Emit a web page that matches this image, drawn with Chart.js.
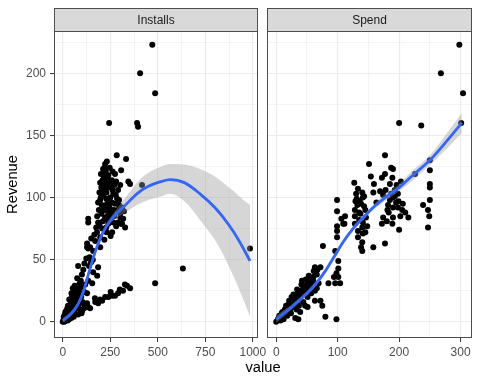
<!DOCTYPE html>
<html>
<head>
<meta charset="utf-8">
<script src="https://cdn.jsdelivr.net/npm/chart.js@4"></script>
<style>
  body { margin: 0; background: #fff; width: 480px; height: 384px; position: relative; overflow: hidden; font-family: 'Liberation Sans', Arial, sans-serif; }
  canvas { position: absolute; top: 0; }
  #panelInstalls { left: 0; }
  #panelSpend { left: 260px; }
  #xTitle { position: absolute; top: 359px; left: 0; width: 526px; text-align: center; font-size: 14.7px; color: #000; }
</style>
</head>
<body>
<canvas id="panelInstalls" width="280" height="384"></canvas>
<canvas id="panelSpend" width="220" height="384"></canvas>
<div id="xTitle">value</div>
<script>
// facet labels
const facets = ['Installs', 'Spend'];

// Installs panel: scatter points
const installsX = [471,407,486,244,391,396,284,333,307,223,220,212,240,275,197,233,302,354,417,486,632,985,
  207,240,266,291,197,233,275,312,212,260,181,223,302,134,134,186,240,291,328,312,207,260,197,171,144,128,160,197,
  81,186,160,181,134,102,155,92,128,66,107,
  186,223,260,291,338,354,317,275,240,207,171,134,102,81,144,128,128,134,76,
  200,215,230,250,205,226,246,255,266,281,190,211,229,252,219,180,193,216,201,232,247,258,271,286,296,303,322,
  229,214,249,258,268,204,186,238,176,166,150,207,345,
  221,236,262,279,296,318,244,226,209,193,271,288,306,253,237,219,203,262,281,231,
  0,3,7,9,12,16,18,22,25,29,31,35,38,42,44,49,52,55,58,62,64,68,71,74,77,79,85,89,95,19,28,41,48,57,69,34,46,53,63,
  11,24,82,91,99,112,119,87,97,113,118,61,72,39,50,101,108,114,124,141,149,138,158,5,14,33,26,45,58,66,84,104,
  169,196,252,300,327];
const installsY = [223,200,184,160,160,157,134,131,122,127,124,123,118,119,112,112,110,111,110,31,43,59,
  106,108,103,106,98,95,95,92,90,88,85,84,87,83,80,80,79,80,76,79,75,72,68,65,60,60,57,60,
  45,44,40,37,33,28,31,23,23,19,15,
  15,20,21,23,29,27,25,21,20,17,16,12,9,6,11,15,63,59,35,
  100,110,104,100,94,90,92,84,80,77,90,81,76,69,66,72,78,117,119,129,124,114,110,99,94,84,89,
  99,102,110,96,90,87,96,86,76,70,67,111,113,
  107,115,106,102,98,83,97,121,114,104,85,90,79,89,82,93,108,121,113,72,
  0,1,2,0,3,2,5,4,7,5,9,7,11,9,13,12,15,13,17,16,20,18,22,21,25,27,26,31,33,9,13,17,20,24,27,18,23,27,29,
  6,11,13,10,7,11,14,17,20,24,30,8,11,4,6,38,42,47,51,52,48,45,50,4,8,2,1,3,4,12,20,16,
  19,18,24,26,30];

// Installs panel: loess fit and confidence band
const installsFitX = [0,40,80,110,140,170,200,230,270,330,390,450,520,564,640,722,800,844,900,950,985];
const installsFit  = [1,6,14,25,41,56,68,77,85,94,103,109,113,114.5,112,103,92,84,72,59,49];
const installsLow  = [-1,4,12,23,39,54,66,75,82,88,94,98,101,103,97,82,66,54,36,18,4];
const installsHigh = [3,8,16,27,43,58,70,79,88,100,112,120,125,127,126.5,123,117,112,105,98,94];

// Spend panel: scatter points
const spendX = [298,268,304,200,236,301,177,151,187,190,154,177,172,189,250,226,250,250,250,127,159,185,
  133,140,130,158,169,193,198,190,141,99,174,185,250,132,128,182,190,198,239,99,145,137,112,247,249,174,190,202,215,
  109,99,128,141,148,172,200,247,99,99,133,141,133,140,158,177,
  106,111,76,96,101,101,98,94,101,85,96,104,63,60,63,75,80,98,36,31,63,138,140,145,140,180,189,47,72,72,
  136,143,128,135,146,195,205,210,183,178,196,203,163,
  131,138,143,135,129,193,187,199,206,181,
  0,2,4,6,8,11,13,15,17,19,21,23,26,27,30,31,34,36,38,40,43,45,47,49,52,54,56,58,5,10,14,20,24,29,35,41,44,50,55,60,66,
  12,18,24,33,37,44,51,57,66,69,28,34,41,48,53,61,67,39,51,42,25,16,9,3,7,
  21,27,33,38,46,54,59,64];
const spendY = [223,200,184,160,158,160,134,127,124,123,117,119,116,116,130,119,122,111,108,112,111,111,
  107,104,103,104,105,106,103,100,100,98,102,98,98,94,90,94,92,92,94,89,90,87,85,90,85,84,84,85,84,
  79,77,79,80,77,79,74,76,73,68,73,71,68,64,60,63,
  83,79,61,57,49,43,39,36,36,31,31,31,44,33,25,13,4,2,2,3,17,60,57,72,76,81,79,13,17,44,
  97,93,85,82,84,96,90,88,88,106,110,113,96,
  99,95,101,88,97,101,103,97,95,90,
  0,1,3,2,5,4,7,6,9,8,11,10,13,12,16,14,17,19,18,21,22,24,23,26,27,29,28,31,5,8,10,14,16,19,22,25,28,30,33,36,38,
  2,5,7,10,13,16,20,23,27,31,22,26,30,34,37,41,42,8,12,33,20,13,7,2,1,
  17,20,15,24,29,25,35,38];

// Spend panel: loess fit and confidence band
const spendFitX = [0,30,60,80,95,110,125,140,160,180,200,220,250,275,302];
const spendFit  = [2,14,28,41,53,65,75,83,93,101,108,117,130,144,160];
const spendLow  = [-1,12,26,39,51,63,73,81,91,98,105,113,126,138,152];
const spendHigh = [5,16,30,43,55,67,77,85,95,104,111,121,134,150,168];

// y axis ticks shared by both panels
const yMajor = [0, 50, 100, 150, 200];

Chart.defaults.font.family = "'Liberation Sans', Arial, sans-serif";

function pares(xs, ys) { return xs.map((x, i) => ({x: x, y: ys[i]})); }

const facetaPlugin = {
  id: 'faceta',
  afterDraw(chart, args, opts) {
    const {ctx, chartArea: a} = chart;
    const l = Math.round(a.left) + 0.5, r = Math.round(a.right) - 0.5;
    const t = Math.round(a.top) + 0.5, b = Math.round(a.bottom) - 0.5;
    ctx.save();
    ctx.fillStyle = '#d9d9d9';
    ctx.fillRect(l, 8.5, r - l, t - 8.5);
    ctx.strokeStyle = '#4d4d4d';
    ctx.lineWidth = 1;
    ctx.strokeRect(l, 8.5, r - l, t - 8.5);
    ctx.strokeRect(l, t, r - l, b - t);
    ctx.fillStyle = '#1a1a1a';
    ctx.font = "12px 'Liberation Sans', Arial, sans-serif";
    ctx.textAlign = 'center';
    ctx.textBaseline = 'middle';
    ctx.fillText(opts.label, (l + r) / 2, (8.5 + t) / 2 + 0.5);
    ctx.restore();
  }
};

function buatPanel(id, label, xs, ys, fitX, fit, low, high, xMin, xMax, xStep, xMajorStep, kiri, padKanan) {
  const grid = (major) => ({
    color: '#ebebeb',
    lineWidth: c => (c.tick && c.tick.value % major === 0) ? 1.1 : 0.55,
    tickLength: 4,
    tickWidth: 1,
    tickColor: c => (c.tick && c.tick.value % major === 0) ? '#333333' : 'rgba(0,0,0,0)'
  });
  const yGrid = grid(50);
  if (!kiri) yGrid.drawTicks = false;
  return new Chart(document.getElementById(id), {
    type: 'line',
    data: {
      datasets: [
        { data: pares(xs, ys), showLine: false, pointRadius: 3, pointHoverRadius: 3,
          pointBackgroundColor: '#000', pointBorderWidth: 0, borderColor: 'rgba(0,0,0,0)', order: 3 },
        { data: pares(fitX, high), borderColor: 'rgba(0,0,0,0)', borderWidth: 0, pointRadius: 0,
          fill: '+1', backgroundColor: 'rgba(153,153,153,0.4)', cubicInterpolationMode: 'monotone', order: 2 },
        { data: pares(fitX, low), borderColor: 'rgba(0,0,0,0)', borderWidth: 0, pointRadius: 0,
          fill: false, cubicInterpolationMode: 'monotone', order: 2 },
        { data: pares(fitX, fit), borderColor: '#3366FF', borderWidth: 2.8, pointRadius: 0,
          fill: false, cubicInterpolationMode: 'monotone', order: 1 }
      ]
    },
    options: {
      responsive: false,
      animation: false,
      events: [],
      layout: { padding: { top: 31, right: padKanan, bottom: 0, left: 0 } },
      plugins: { legend: { display: false }, tooltip: { enabled: false }, faceta: { label: label } },
      scales: {
        x: {
          type: 'linear', min: xMin, max: xMax,
          ticks: { stepSize: xStep, includeBounds: false, autoSkip: false, maxRotation: 0, padding: 3,
            color: '#4d4d4d', font: { size: 12 },
            callback: v => v % xMajorStep === 0 ? v : '' },
          grid: grid(xMajorStep),
          border: { display: false },
          afterFit: s => { s.height = 46; }
        },
        y: {
          type: 'linear', min: -13, max: 234,
          ticks: { display: kiri, stepSize: 25, includeBounds: false, autoSkip: false, padding: 4,
            color: '#4d4d4d', font: { size: 12 },
            callback: v => yMajor.includes(v) ? v : '' },
          grid: yGrid,
          border: { display: false },
          title: { display: kiri, text: 'Revenue', color: '#000', font: { size: 14.7 }, padding: { top: 4, bottom: 0 } },
          afterFit: s => { s.width = kiri ? 54 : 7; }
        }
      }
    },
    plugins: [facetaPlugin]
  });
}

buatPanel('panelInstalls', facets[0], installsX, installsY, installsFitX, installsFit, installsLow, installsHigh,
  -46, 1027, 125, 250, true, 22);
buatPanel('panelSpend', facets[1], spendX, spendY, spendFitX, spendFit, spendLow, spendHigh,
  -15, 318.6, 50, 100, false, 8);
</script>
</body>
</html>
